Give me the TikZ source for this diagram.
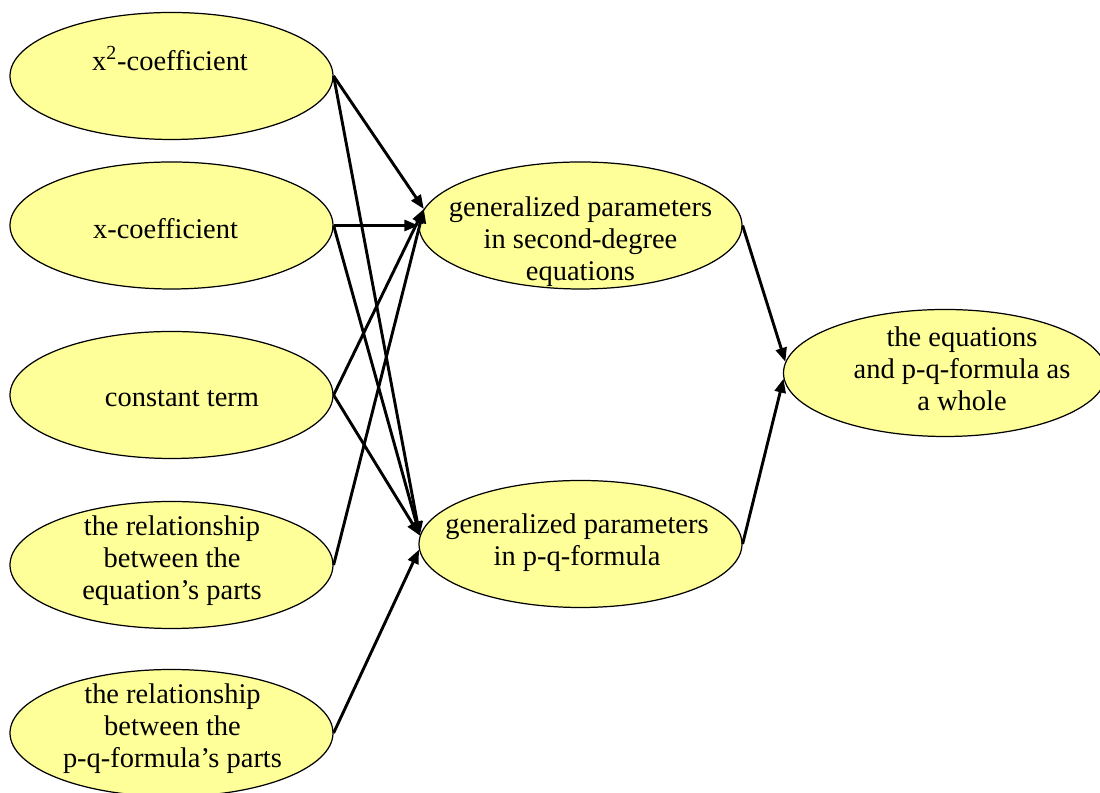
\documentclass[tikz,border=0pt]{standalone}
\usepackage{fontspec}
\setmainfont{Liberation Serif}
\usetikzlibrary{arrows.meta,shapes.geometric}
\definecolor{paleyellow}{RGB}{255,255,153}

\begin{document}
\begin{tikzpicture}[%
    conn/.style={-{Triangle[length=0.28cm, width=0.22cm]}, line width=0.058cm},
    blob/.style={ellipse, draw, fill=paleyellow, line width=0.7pt, minimum width=6.46cm, minimum height=2.54cm, inner sep=0},
    txt/.style={align=center, inner sep=0, font={\fontsize{16.2}{18.2}\selectfont}},
    x=1cm,
    y=1cm
    ]

    \useasboundingbox (0,0) rectangle (22,15.86);

    % left column
    \node [blob] (xsq) at (3.43,14.34) {};
    \node [blob] (xlin) at (3.43,11.35) {};
    \node [blob] (const) at (3.43,7.96) {};
    \node [blob] (eqrel) at (3.43,4.56) {};
    \node [blob] (pqrel) at (3.43,1.20) {};

    % middle and right
    \node [blob] (geneq) at (11.61,11.35) {};
    \node [blob] (genpq) at (11.61,4.98) {};
    \node [blob] (whole) at (18.90,8.40) {};

    % connectors
    \draw[conn] (xsq.east) -- (geneq.174);
    \draw[conn] (xsq.east) -- (genpq.177);
    \draw[conn] (xlin.east) -- (geneq.west);
    \draw[conn] (xlin.east) -- (genpq.177);
    \draw[conn] (const.east) -- (geneq.174);
    \draw[conn] (const.east) -- (genpq.177);
    \draw[conn] (eqrel.east) -- (geneq.174);
    \draw[conn] (pqrel.east) -- (genpq.182);
    \draw[conn] (geneq.east) -- (whole.176);
    \draw[conn] (genpq.east) -- (whole.182);

    % texts
    \node [txt] (xsqtxt) at (3.40,14.68) {x\textsuperscript{2}-coefficient};
    \node [txt] (xlintxt) at (3.31,11.28) {x-coefficient};
    \node [txt] (consttxt) at (3.64,7.88) {constant term};
    \node [txt] (eqreltxt) at (3.44,4.64) {the relationship\\between the\\equation’s parts};
    \node [txt] (pqreltxt) at (3.45,1.28) {the relationship\\between the\\p-q-formula’s parts};
    \node [txt] (geneqtxt) at (11.61,11.02) {generalized parameters\\in second-degree\\equations};
    \node [txt] (genpqtxt) at (11.54,5.00) {generalized parameters\\in p-q-formula};
    \node [txt] (wholetxt) at (19.24,8.48) {the equations\\and p-q-formula as\\a whole};

\end{tikzpicture}
\end{document}
